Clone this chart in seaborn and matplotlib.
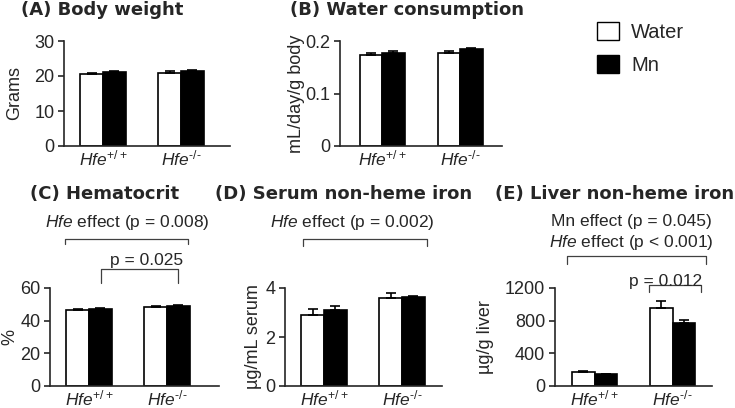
import matplotlib
matplotlib.use("Agg")
import matplotlib.pyplot as plt
import seaborn as sns
import pandas as pd
from matplotlib.patches import Patch

sns.set_style("ticks")
plt.rcParams["font.family"] = ["Liberation Sans", "DejaVu Sans"]
plt.rcParams["mathtext.fontset"] = "custom"
plt.rcParams["mathtext.rm"] = "Liberation Sans"
plt.rcParams["mathtext.it"] = "Liberation Sans:italic"

# data (means and upper SEM)
genotypes = [r"$\mathit{Hfe}^{+/+}$", r"$\mathit{Hfe}^{\text{-/-}}$"]
treatments = ["Water", "Mn"]

weight_water = [20.5, 20.9]
weight_mn = [21.1, 21.3]
weight_err_water = [0.45, 0.4]
weight_err_mn = [0.4, 0.4]

drink_water = [0.173, 0.178]
drink_mn = [0.178, 0.184]
drink_err_water = [0.004, 0.003]
drink_err_mn = [0.003, 0.003]

hct_water = [46.7, 48.4]
hct_mn = [47.0, 49.2]
hct_err_water = [0.6, 0.4]
hct_err_mn = [0.8, 0.4]

serum_water = [2.91, 3.60]
serum_mn = [3.09, 3.63]
serum_err_water = [0.22, 0.19]
serum_err_mn = [0.17, 0.05]

liver_water = [170, 958]
liver_mn = [142, 767]
liver_err_water = [8, 81]
liver_err_mn = [7, 45]

W, H = 735, 408
fig = plt.figure(figsize=(W / 100, H / 100), dpi=100)


def panel(left, top, bottom, xlim, ylim, yticks, water, mn, err_w, err_mn,
          ylabel, label_x, title, title_x, title_y):
    width = (xlim[1] - xlim[0]) * 78
    ax = fig.add_axes([left / W, (H - bottom) / H, width / W, (bottom - top) / H])
    df = pd.DataFrame({
        "genotype": genotypes * 2,
        "treatment": [treatments[0]] * 2 + [treatments[1]] * 2,
        "value": water + mn,
    })
    sns.barplot(data=df, x="genotype", y="value", hue="treatment",
                order=genotypes, hue_order=treatments,
                palette={"Water": "white", "Mn": "black"},
                edgecolor="black", linewidth=1.2, width=0.58,
                errorbar=None, legend=False, ax=ax)
    for cont, errs in zip(ax.containers, [err_w, err_mn]):
        xs = [p.get_x() + p.get_width() / 2 for p in cont]
        hs = [p.get_height() for p in cont]
        ax.errorbar(xs, hs, yerr=[[0] * len(errs), errs], fmt="none",
                    ecolor="black", elinewidth=1.2, capsize=3.5, capthick=1.2,
                    zorder=3)
    ax.set_xlim(*xlim)
    ax.set_ylim(*ylim)
    ax.set_yticks(yticks)
    ax.set_xlabel("")
    ax.set_ylabel(ylabel, fontsize=13)
    ax.yaxis.set_label_coords((label_x - left) / width, 0.5)
    ax.tick_params(axis="y", labelsize=13, length=4, width=1.2, pad=3)
    ax.tick_params(axis="x", labelsize=12.5, length=0, pad=1.5)
    sns.despine(ax=ax)
    for s in ["left", "bottom"]:
        ax.spines[s].set_linewidth(1.2)
    fig.text(title_x / W, (H - title_y) / H, title, fontsize=13,
             fontweight="bold", family="DejaVu Sans", va="baseline")
    return ax


def bracket(ax, x0, x1, y, drop):
    ax.plot([x0, x0, x1, x1], [y - drop, y, y, y - drop], color="#404040",
            lw=0.9, clip_on=False)


ax_a = panel(64, 41, 146, (-0.5, 1.63), (0, 30), [0, 10, 20, 30],
             weight_water, weight_mn, weight_err_water, weight_err_mn,
             "Grams", 23, "(A) Body weight", 21, 15)
ax_b = panel(340, 41, 146, (-0.54, 1.54), (0, 0.2), [0, 0.1, 0.2],
             drink_water, drink_mn, drink_err_water, drink_err_mn,
             "mL/day/g body", 305, "(B) Water consumption", 290, 15)
ax_b.set_yticklabels(["0", "0.1", "0.2"])
ax_c = panel(50, 288, 386, (-0.5, 1.67), (0, 60), [0, 20, 40, 60],
             hct_water, hct_mn, hct_err_water, hct_err_mn,
             "%", 18, "(C) Hematocrit", 30, 199)
ax_d = panel(285, 288, 386, (-0.5, 1.51), (0, 4), [0, 2, 4],
             serum_water, serum_mn, serum_err_water, serum_err_mn,
             "µg/mL serum", 262, "(D) Serum non-heme iron", 215, 199)
ax_e = panel(555, 288, 386, (-0.51, 1.5), (0, 1200), [0, 400, 800, 1200],
             liver_water, liver_mn, liver_err_water, liver_err_mn,
             "µg/g liver", 494, "(E) Liver non-heme iron", 495, 199)

# significance annotations
txt = dict(fontsize=12.5, ha="center", va="baseline")
bracket(ax_c, -0.31, 1.27, 90.3, 3.6)
ax_c.text(0.49, 97.6, r"$\mathit{Hfe}$ effect (p = 0.008)", **txt)
bracket(ax_c, 0.15, 1.14, 71.5, 8.5)
ax_c.text(0.74, 74, "p = 0.025", **txt)

bracket(ax_d, -0.27, 1.32, 6.02, 0.32)
ax_d.text(0.36, 6.5, r"$\mathit{Hfe}$ effect (p = 0.002)", **txt)

bracket(ax_e, -0.36, 1.42, 1596, 108)
ax_e.text(0.47, 1956, "Mn effect (p = 0.045)", **txt)
ax_e.text(0.47, 1704, r"$\mathit{Hfe}$ effect (p < 0.001)", **txt)
bracket(ax_e, 0.7, 1.36, 1236, 84)
ax_e.text(0.91, 1224, "p = 0.012", **txt)

handles = [Patch(facecolor="white", edgecolor="black", lw=1.0, label="Water"),
           Patch(facecolor="black", edgecolor="black", lw=1.0, label="Mn")]
fig.legend(handles=handles, loc="upper left", bbox_to_anchor=(597 / W, (H - 22) / H),
           frameon=False, fontsize=14.5, handlelength=1.1, handleheight=1.0,
           handletextpad=0.6, labelspacing=0.65, borderpad=0, borderaxespad=0)

fig.savefig("out.png", dpi=100)
